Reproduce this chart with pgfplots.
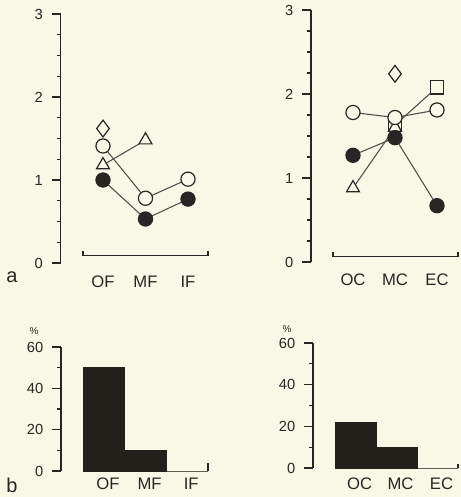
\documentclass[border=0pt]{standalone}
\usepackage{pgfplots}
\pgfplotsset{compat=1.18}
\usepackage{fontspec}
\setmainfont{Liberation Sans}
\definecolor{bg}{RGB}{249,247,230}
\definecolor{ink}{RGB}{40,38,35}
\definecolor{barc}{RGB}{35,31,27}
\definecolor{ln}{RGB}{80,78,74}

\pgfplotsset{
 myax/.style={
  scale only axis, clip=false,
  axis lines=left, axis line style={-, ink, line width=0.9pt},
  x axis line style={draw=none},
  tick align=outside,
  major tick length=6.75pt, minor tick length=3pt,
  ytick pos=left,
  tick style={ink, line width=0.9pt},
  xtick style={draw=none},
  xtick={0,1,2},
  /pgf/number format/assume math mode=true,
  yticklabel style={font=\fontsize{11}{13}\selectfont, text=ink, xshift=-3pt},
  xticklabel style={font=\fontsize{12.5}{14}\selectfont, text=ink},
 },
 fc/.style={ln, line width=0.8pt, mark=*, mark size=5.3pt, mark options={solid, draw=ink, fill=ink, line width=0.9pt}},
 oc/.style={ln, line width=0.8pt, mark=*, mark size=5.3pt, mark options={solid, draw=ink, fill=bg, line width=0.9pt}},
 tr/.style={ln, line width=0.8pt, mark=triangle*, mark size=5.6pt, mark options={solid, draw=ink, fill=bg, line width=0.9pt}},
 dm/.style={ln, line width=0.8pt, mark=diamond*, mark size=6.3pt, mark options={solid, draw=ink, fill=bg, line width=0.9pt}},
 sq/.style={ln, line width=0.8pt, mark=square*, mark size=5.1pt, mark options={solid, draw=ink, fill=bg, line width=0.9pt}},
}

\begin{document}
\begin{tikzpicture}
\path[use as bounding box] (0,0) rectangle (345.75pt,372.75pt);
\fill[bg] (0,0) rectangle (345.75pt,372.75pt);

% ---------- top left ----------
\begin{axis}[myax, at={(45.375pt,175.5pt)}, anchor=south west,
  width=111.56pt, height=186.75pt,
  xmin=-1, xmax=2.5, ymin=0, ymax=3,
  ytick={0,1,2,3}, minor ytick={0.25,0.5,0.75,1.25,1.5,1.75,2.25,2.5,2.75},
  xticklabels={OF,MF,IF}, xticklabel style={yshift=0.5pt}]
\addplot[tr] coordinates {(0,1.18) (1,1.48)};
\addplot[oc] coordinates {(0,1.41) (1,0.78) (2,1.01)};
\addplot[fc] coordinates {(0,1.0) (1,0.53) (2,0.77)};
\addplot[dm] coordinates {(0,1.62)};
\draw[ink, line width=0.8pt] ([yshift=3.75pt]axis cs:-0.47,0.085) -- (axis cs:-0.47,0.085) -- (axis cs:2.47,0.085) -- ([yshift=3.75pt]axis cs:2.47,0.085);
\end{axis}

% ---------- top right ----------
\begin{axis}[myax, at={(233.25pt,176.25pt)}, anchor=south west,
  width=110.25pt, height=189pt,
  xmin=-1, xmax=2.5, ymin=0, ymax=3,
  ytick={0,1,2,3}, minor ytick={0.25,0.5,0.75,1.25,1.5,1.75,2.25,2.5,2.75},
  xticklabels={OC,MC,EC}, xticklabel style={yshift=1.3pt}]
\addplot[sq] coordinates {(1,1.63) (2,2.08)};
\addplot[tr] coordinates {(0,0.88) (1,1.6)};
\addplot[oc] coordinates {(0,1.78) (1,1.72) (2,1.81)};
\addplot[fc] coordinates {(0,1.27) (1,1.48) (2,0.67)};
\addplot[dm] coordinates {(1,2.24)};
\draw[ink, line width=0.8pt] ([yshift=3.75pt]axis cs:-0.476,0.06) -- (axis cs:-0.476,0.06) -- (axis cs:2.5,0.06) -- ([yshift=3.75pt]axis cs:2.5,0.06);
\end{axis}

% ---------- bottom left ----------
\begin{axis}[myax, at={(45.75pt,19.5pt)}, anchor=south west,
  width=110.25pt, height=93pt,
  xmin=-1.03, xmax=2.5, ymin=0, ymax=60,
  ytick={0,20,40,60}, minor ytick={10,30,50},
  xticklabels={OF,MF,IF}, xticklabel style={yshift=5pt, xshift=3pt}]
\addplot[ybar interval, fill=barc, draw=barc, line width=0.6pt] coordinates {(-0.5,50) (0.5,10) (1.5,0) (2.5,0)};
\draw[ink, line width=0.8pt] (axis cs:2.5,0) -- ([yshift=6pt]axis cs:2.5,0);
\end{axis}

% ---------- bottom right ----------
\begin{axis}[myax, at={(234.75pt,21.75pt)}, anchor=south west,
  width=108.75pt, height=93.75pt,
  xmin=-1.04, xmax=2.5, ymin=0, ymax=60,
  ytick={0,20,40,60}, minor ytick={10,30,50},
  xticklabels={OC,MC,EC}, xticklabel style={yshift=3pt, xshift=3pt}]
\addplot[ybar interval, fill=barc, draw=barc, line width=0.6pt] coordinates {(-0.5,22) (0.5,10) (1.5,0) (2.5,0)};
\draw[ink, line width=0.8pt] (axis cs:2.5,0) -- ([yshift=3pt]axis cs:2.5,0);
\end{axis}

\node[font=\fontsize{7.5}{8}\selectfont, text=ink] at (25.5pt,124.5pt) {\%};
\node[font=\fontsize{7.5}{8}\selectfont, text=ink] at (215.25pt,126pt) {\%};
\node[font=\fontsize{15}{17}\selectfont, text=ink, inner sep=0pt] at (9pt,165pt) {a};
\node[font=\fontsize{15}{17}\selectfont, text=ink, inner sep=0pt] at (9pt,9pt) {b};
\end{tikzpicture}
\end{document}
